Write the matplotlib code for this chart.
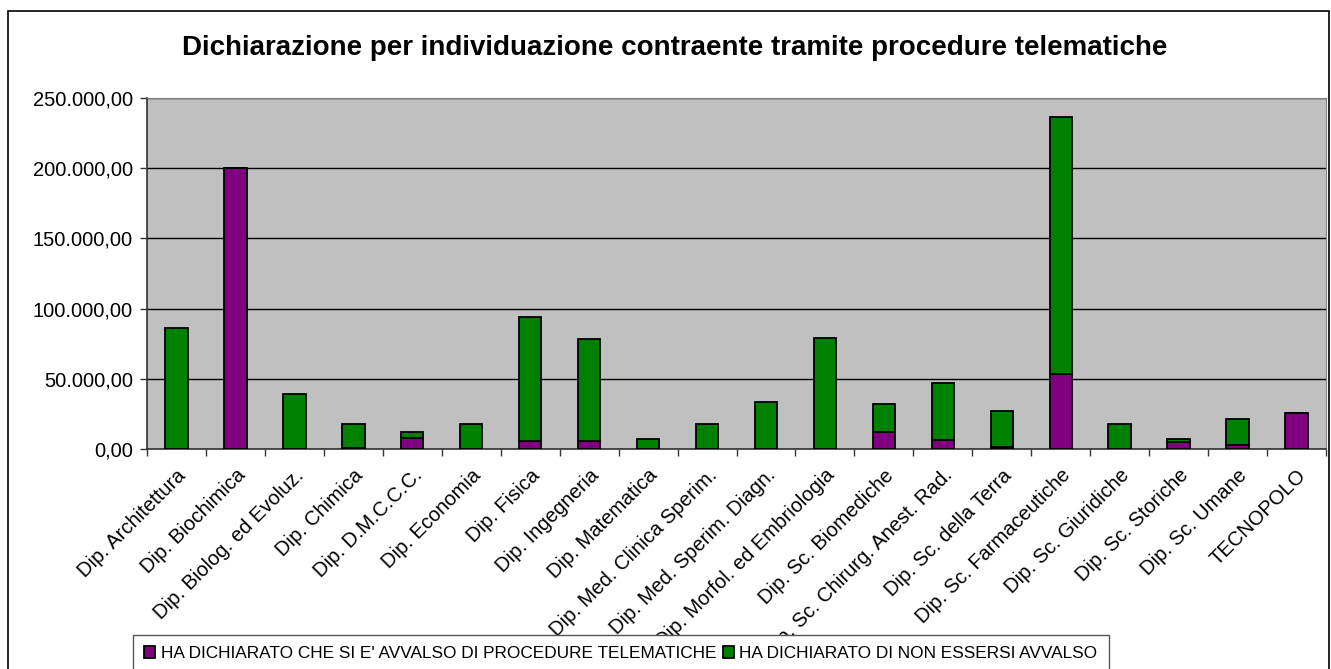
import matplotlib
matplotlib.use("Agg")
import matplotlib.pyplot as plt
from matplotlib.patches import Rectangle
from matplotlib.ticker import FuncFormatter, FixedLocator
import numpy as np

# ---------------------------------------------------------------------
# Data (euro amounts)
# ---------------------------------------------------------------------
departments = [
    "Dip. Architettura",
    "Dip. Biochimica",
    "Dip. Biolog. ed Evoluz.",
    "Dip. Chimica",
    "Dip. D.M.C.C.C.",
    "Dip. Economia",
    "Dip. Fisica",
    "Dip. Ingegneria",
    "Dip. Matematica",
    "Dip. Med. Clinica Sperim.",
    "Dip. Med. Sperim. Diagn.",
    "Dip. Morfol. ed Embriologia",
    "Dip. Sc. Biomediche",
    "Dip. Sc. Chirurg. Anest. Rad.",
    "Dip. Sc. della Terra",
    "Dip. Sc. Farmaceutiche",
    "Dip. Sc. Giuridiche",
    "Dip. Sc. Storiche",
    "Dip. Sc. Umane",
    "TECNOPOLO",
]

telematiche = [0, 200000, 0, 1000, 8000, 0, 5700, 5700, 0, 0,
               0, 0, 12100, 6700, 1400, 53500, 0, 5300, 2900, 25700]

non_avvalso = [86000, 0, 39000, 16800, 4100, 17800, 88600, 72500, 6900, 17800,
               33500, 79400, 20200, 40400, 25700, 183200, 17800, 1600, 18500, 0]

label_tel = "HA DICHIARATO CHE SI E' AVVALSO DI PROCEDURE TELEMATICHE"
label_non = "HA DICHIARATO DI NON ESSERSI AVVALSO"
title = "Dichiarazione per individuazione contraente tramite procedure telematiche"

PURPLE = "#800080"
GREEN = "#008000"
PLOT_BG = "#c0c0c0"

plt.rcParams["font.family"] = ["Liberation Sans", "DejaVu Sans"]

W, H = 1331, 669
fig = plt.figure(figsize=(W / 100, H / 100), dpi=100)

# outer chart border
fig.patches.append(Rectangle((8 / W, -0.05), (1329 - 8) / W, 1.05 - 11 / H,
                             transform=fig.transFigure, fill=False,
                             edgecolor="black", linewidth=1.2))

ax = fig.add_axes([147 / W, 1 - 449 / H, (1326 - 147) / W, (449 - 98) / H])
ax.set_facecolor(PLOT_BG)

x = np.arange(len(departments))
ax.bar(x, telematiche, width=0.38, color=PURPLE, edgecolor="black",
       linewidth=1.3, label=label_tel, zorder=3)
ax.bar(x, non_avvalso, width=0.38, bottom=telematiche, color=GREEN,
       edgecolor="black", linewidth=1.3, label=label_non, zorder=3)

ax.set_xlim(-0.5, len(departments) - 0.5)
ax.set_ylim(0, 250000)
ax.set_yticks(np.arange(0, 250001, 50000))
ax.yaxis.set_major_formatter(
    FuncFormatter(lambda v, _: f"{v:,.2f}".replace(",", "X").replace(".", ",").replace("X", "."))
)
ax.grid(axis="y", color="black", linewidth=1.0, zorder=1)

# category labels at centres, tick marks at boundaries
ax.set_xticks(x)
ax.set_xticklabels(departments, rotation=45, ha="right", va="top",
                   rotation_mode="anchor", fontsize=14.5)
ax.tick_params(axis="x", which="major", length=0, pad=12)
ax.xaxis.set_minor_locator(FixedLocator(np.arange(-0.5, len(departments), 1.0)))
ax.tick_params(axis="x", which="minor", length=5, width=1, color="#333333")
ax.tick_params(axis="y", length=5, width=1, color="#333333", labelsize=14.5, pad=5)

for side in ("top", "right"):
    ax.spines[side].set_color("#808080")
for side in ("left", "bottom"):
    ax.spines[side].set_color("#333333")
    ax.spines[side].set_linewidth(1.2)

fig.text(675 / W, 1 - 48 / H, title, ha="center", va="center",
         fontsize=20, fontweight="bold")

leg = fig.legend(loc="upper left", bbox_to_anchor=(133 / W, 1 - 635 / H),
                 ncol=2, frameon=True, fancybox=False, borderaxespad=0,
                 handlelength=0.65, handleheight=0.65, handletextpad=0.3,
                 columnspacing=0.4, borderpad=0.65, framealpha=1.0,
                 prop={"size": 12.4})
leg.get_frame().set_edgecolor("#555555")
leg.get_frame().set_linewidth(1.0)
leg.set_zorder(10)

fig.savefig("out.png", dpi=100)
